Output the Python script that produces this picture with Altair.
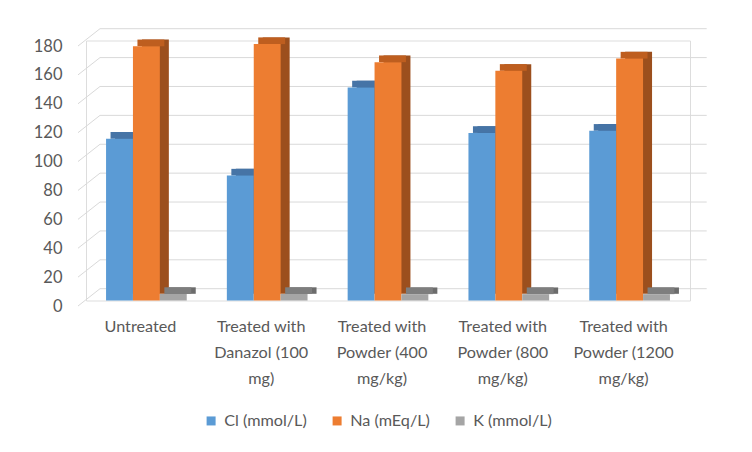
import altair as alt
import pandas as pd

# ---- data ----
categories = [
    "Untreated",
    "Treated with|Danazol (100|mg)",
    "Treated with|Powder (400|mg/kg)",
    "Treated with|Powder (800|mg/kg)",
    "Treated with|Powder (1200|mg/kg)",
]
series = ["Cl (mmol/L)", "Na (mEq/L)", "K (mmol/L)"]
cl_values = [112, 86.5, 147.5, 116, 117.5]
na_values = [176, 177.5, 165, 159, 167.5]
k_values = [4.5, 4.5, 4.4, 4.4, 4.4]
y_ticks = [0, 20, 40, 60, 80, 100, 120, 140, 160, 180]

front_colors = ["#5B9BD5", "#ED7D31", "#A5A5A5"]
top_colors = ["#4674A6", "#BE5E1F", "#7E7E7E"]
side_colors = ["#3F6894", "#9C4F1D", "#6C6C6C"]

rows = []
for s, vals in zip(series, [cl_values, na_values, k_values]):
    for c, v in zip(categories, vals):
        rows.append({"cat": c, "series": s, "value": v})
df = pd.DataFrame(rows)
ticks_df = pd.DataFrame({"tick": y_ticks})

FONT = "Lato"
TXT = "#595959"
GRID = "#D9D9D9"

W = 604
PAD_IN = 0.332
BANDW = W / 5 * (1 - PAD_IN)   # width of one group of three bars
DX, DY = 9, 6.7                # 3-D depth offsets

y_scale = alt.Scale(domain=[0, 180], nice=False, zero=True)
y_axis = alt.Axis(
    values=y_ticks, title=None, grid=False, domain=False, ticks=False,
    labelPadding=24, labelOffset=5.5, labelFont=FONT, labelFontSize=16.5,
    labelColor=TXT,
)
x_axis = alt.Axis(
    title=None, labelExpr="split(datum.label, '|')", labelAngle=0,
    labelFont=FONT, labelFontSize=16.2, labelColor=TXT, labelPadding=18,
    labelLineHeight=26, labelOffset=-6, domain=False, ticks=False,
    labelLimit=0,
)
x_enc = alt.X("cat:N", sort=categories,
              scale=alt.Scale(paddingInner=PAD_IN, paddingOuter=PAD_IN / 2),
              axis=x_axis)


def xoff(shift):
    return alt.XOffset("series:N", sort=series,
                       scale=alt.Scale(domain=series,
                                       range=[shift, shift + BANDW]))


grid = alt.Chart(ticks_df).mark_rule(
    color=GRID, strokeWidth=1, yOffset=-11.8
).encode(
    y=alt.Y("tick:Q", scale=y_scale, axis=y_axis),
    x=alt.value(14), x2=alt.value(620.7),
)

diag = alt.Chart(ticks_df).mark_rule(
    color=GRID, strokeWidth=1, yOffset=5.5, y2Offset=-11.8
).encode(
    y=alt.Y("tick:Q", scale=y_scale, axis=y_axis),
    y2=alt.Y2("tick:Q"),
    x=alt.value(-8), x2=alt.value(14),
)

side = alt.Chart(df).mark_bar(yOffset=-DY, y2Offset=-DY).encode(
    x=x_enc, xOffset=xoff(DX),
    y=alt.Y("value:Q", scale=y_scale, axis=y_axis),
    color=alt.Color("series:N", sort=series,
                    scale=alt.Scale(domain=series, range=side_colors),
                    legend=None),
)

top = alt.Chart(df).mark_bar(yOffset=-DY, y2Offset=0).encode(
    x=x_enc, xOffset=xoff(DX / 2),
    y=alt.Y("value:Q", scale=y_scale, axis=y_axis),
    y2=alt.Y2("value:Q"),
    color=alt.Color("series:N", sort=series,
                    scale=alt.Scale(domain=series, range=top_colors),
                    legend=None),
)

front = alt.Chart(df).mark_bar().encode(
    x=x_enc, xOffset=xoff(0),
    y=alt.Y("value:Q", scale=y_scale, axis=y_axis),
    color=alt.Color(
        "series:N", sort=series,
        scale=alt.Scale(domain=series, range=front_colors),
        legend=alt.Legend(
            title=None, orient="none", legendX=117, legendY=372,
            direction="horizontal", symbolType="square", symbolSize=81,
            symbolStrokeWidth=0, labelFont=FONT, labelFontSize=16.2,
            labelColor=TXT, labelOffset=5, columnPadding=22, padding=0,
        ),
    ),
)

chart = alt.layer(grid, diag, side, top, front).resolve_scale(
    color="independent", xOffset="independent"
).properties(
    width=W, height=260,
    padding={"left": 78, "top": 32.5, "right": 54, "bottom": 143.5},
    autosize=alt.AutoSizeParams(type="none"),
).configure_view(stroke=None).configure(font=FONT)

chart.save("out.html", embed_options={"renderer": "svg", "actions": False})
